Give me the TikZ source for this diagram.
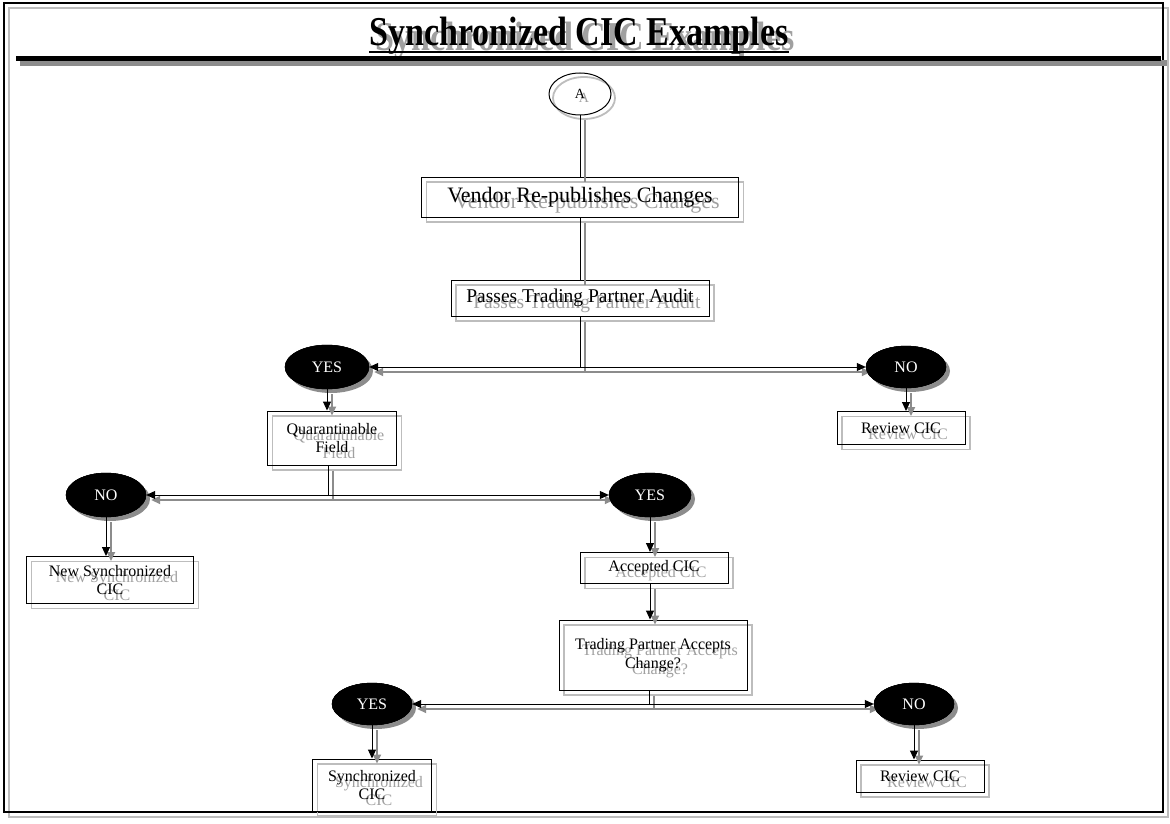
\documentclass[tikz,border=0pt]{standalone}
\usepackage{fontspec}
\setmainfont{Liberation Serif}
\usetikzlibrary{arrows.meta,shapes.geometric,calc}
\definecolor{shgray}{HTML}{BDBDBD}
\definecolor{shdark}{HTML}{8C8C8C}
\definecolor{txtsh}{HTML}{A0A0A0}
\tikzset{
  x=1pt, y=-1pt,
  box/.style={draw=black, line width=1pt, rectangle, inner sep=0pt, align=center},
  boxsh/.style={draw=shgray, line width=1.8pt, rectangle, inner sep=0pt},
  tsh/.style={text=txtsh, inner sep=0pt, align=center},
  oval/.style={ellipse, fill=black, draw=black, text=white, inner sep=0pt},
  ovalsh/.style={ellipse, fill=shdark, inner sep=0pt},
  conn/.style={draw=black, line width=1pt},
  connsh/.style={draw=shdark, line width=1.8pt, transform canvas={shift={(5pt,-5pt)}}},
  tip/.style={-{Triangle[length=9pt,width=8pt]}},
  fbig/.style={font=\fontsize{22}{24}\selectfont},
  fmid/.style={font=\fontsize{19.5}{22}\selectfont},
  fsmall/.style={font=\fontsize{16}{18.5}\selectfont},
  foval/.style={font=\fontsize{16}{18}\selectfont},
}
% #1 font style, #2 name, #3 x, #4 y, #5 width, #6 height, #7 text
\newcommand\flowbox[7]{%
  \node[boxsh, minimum width=#5pt, minimum height=#6pt] (#2-sh) at (#3+5,#4+5) {};
  \node[tsh, #1] (#2-tsh) at (#3+7,#4+6) {#7};
  \node[box, #1, minimum width=#5pt, minimum height=#6pt] (#2) at (#3,#4) {#7};
}
% #1 name, #2 x, #3 y, #4 width, #5 height, #6 text
\newcommand\flowoval[6]{%
  \node[ovalsh, minimum width=#4pt, minimum height=#5pt] (#1-sh) at (#2+4,#3+4) {};
  \node[oval, foval, minimum width=#4pt, minimum height=#5pt] (#1) at (#2,#3) {#6};
}
\newcommand\allconnectors[1]{%
  \draw[#1] (A) -- (vendor);
  \draw[#1] (vendor) -- (passes);
  \draw[#1, tip] (passes.south) |- (yes1.east);
  \draw[#1, tip] (passes.south) |- (no1.west);
  \draw[#1, tip] (yes1.south) -- (yes1.south |- quar.north);
  \draw[#1, tip] (no1.south) -- (no1.south |- rev1.north);
  \draw[#1, tip] ([xshift=-4pt]quar.south) |- (no2.east);
  \draw[#1, tip] ([xshift=-4pt]quar.south) |- (yes2.west);
  \draw[#1, tip] (no2.south) -- (no2.south |- newsync.north);
  \draw[#1, tip] (yes2.south) -- (yes2.south |- acc.north);
  \draw[#1, tip] ([xshift=-4pt]acc.south) -- ([xshift=-4pt]acc.south |- trad.north);
  \draw[#1, tip] ([xshift=-4pt]trad.south) |- (yes3.east);
  \draw[#1, tip] ([xshift=-4pt]trad.south) |- (no3.west);
  \draw[#1, tip] (yes3.south) -- (yes3.south |- sync.north);
  \draw[#1, tip] (no3.south) -- (no3.south |- rev2.north);
}
\begin{document}
\begin{tikzpicture}
\useasboundingbox (0,0) rectangle (1170,824);
\fill[white] (0,0) rectangle (1170,824);
% frame
\draw[shgray, line width=2.5pt] (9,8) rectangle (1168,817);
\draw[black, line width=1.2pt] (4,3) rectangle (1163,812);
% title
\node[text=txtsh, inner sep=0pt, anchor=base, font=\fontsize{41}{41}\selectfont\bfseries] (title-sh) at (585,51) {\scalebox{0.83}[1]{Synchronized CIC Examples}};
\node[text=black, inner sep=0pt, anchor=base, font=\fontsize{41}{41}\selectfont\bfseries] (title) at (579,46) {\scalebox{0.83}[1]{Synchronized CIC Examples}};
\fill[black] ($(title.base west)+(0,5)$) rectangle ($(title.base east)+(0,7.5)$);
% bar
\fill[shdark] (20,60) rectangle (1167,66);
\fill[black] (16,56) rectangle (1161,61);
% start circle
\node[ellipse, draw=shgray, line width=1.8pt, minimum width=62pt, minimum height=42pt] (A-sh) at (584,98) {};
\node[text=txtsh, font=\fontsize{14}{14}\selectfont, inner sep=0pt] (A-tsh) at (584,98) {A};
\node[ellipse, draw=black, line width=1pt, minimum width=62pt, minimum height=42pt, font=\fontsize{14}{14}\selectfont, inner sep=0pt] (A) at (580,94) {A};
% boxes
\flowbox{fbig}{vendor}{580}{197}{317}{40}{Vendor Re-publishes Changes}
\flowbox{fmid}{passes}{580}{298}{258}{36}{Passes Trading Partner Audit}
\flowbox{fsmall}{quar}{332}{438}{129}{54}{Quarantinable\\Field}
\flowbox{fsmall}{rev1}{901}{428}{128}{33}{Review CIC}
\flowbox{fsmall}{newsync}{110}{580}{167}{47}{New Synchronized\\CIC}
\flowbox{fsmall}{acc}{654}{568}{148}{31}{Accepted CIC}
\flowbox{fsmall}{trad}{653}{655}{188}{70}{Trading Partner Accepts\\Change?}
\flowbox{fsmall}{sync}{372}{785}{119}{52}{Synchronized\\CIC}
\flowbox{fsmall}{rev2}{920}{776}{128}{32}{Review CIC}
% ovals
\flowoval{yes1}{327}{367}{84}{44}{YES}
\flowoval{no1}{906}{367}{80}{42}{NO}
\flowoval{no2}{106}{495}{80}{44}{NO}
\flowoval{yes2}{650}{495}{82}{44}{YES}
\flowoval{yes3}{372}{704}{80}{42}{YES}
\flowoval{no3}{914}{704}{80}{42}{NO}
% connectors
\allconnectors{connsh}
\allconnectors{conn}
% redraw ovals on top of connector shadows
\node[oval, foval, minimum width=84pt, minimum height=44pt] (yes1-top) at (327,367) {YES};
\node[oval, foval, minimum width=80pt, minimum height=42pt] (no1-top) at (906,367) {NO};
\node[oval, foval, minimum width=80pt, minimum height=44pt] (no2-top) at (106,495) {NO};
\node[oval, foval, minimum width=82pt, minimum height=44pt] (yes2-top) at (650,495) {YES};
\node[oval, foval, minimum width=80pt, minimum height=42pt] (yes3-top) at (372,704) {YES};
\node[oval, foval, minimum width=80pt, minimum height=42pt] (no3-top) at (914,704) {NO};
\end{tikzpicture}
\end{document}
